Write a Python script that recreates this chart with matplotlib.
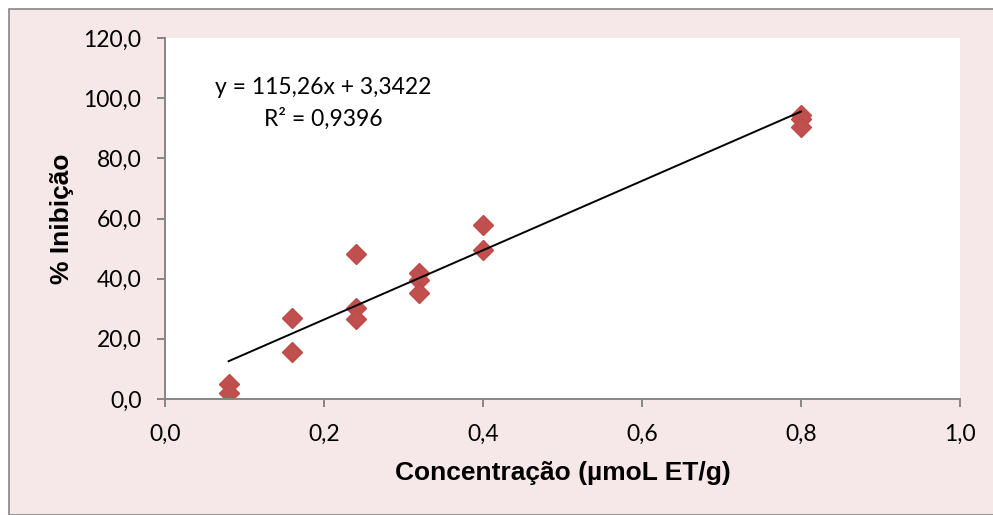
import matplotlib
matplotlib.use("Agg")
from matplotlib import pyplot as plt
from matplotlib.patches import Rectangle
from matplotlib.ticker import FuncFormatter, MultipleLocator

# concentration (umol ET/g) and % inhibition, replicate readings
conc = [0.08, 0.08, 0.16, 0.16, 0.24, 0.24, 0.24, 0.32, 0.32, 0.32, 0.40, 0.40, 0.80, 0.80, 0.80]
inhib = [5.0, 2.1, 27.0, 15.7, 48.1, 30.1, 26.5, 41.8, 39.6, 35.3, 57.8, 49.5, 94.5, 93.0, 90.3]

# linear fit reported on the chart
slope = 115.26
intercept = 3.3422
r2 = 0.9396

bg = '#F6E8E8'
grey = '#868686'
tick_font = 'Lato'


def comma(v, pos, nd=1):
    return f'{v:.{nd}f}'.replace('.', ',')


fig = plt.figure(figsize=(9.93, 5.15), dpi=100)
fig.patch.set_facecolor('white')
fig.patches.append(Rectangle((9 / 993, 0), 1, 1 - 9 / 515, transform=fig.transFigure,
                             facecolor=bg, edgecolor=grey, linewidth=1.2, zorder=-1))

ax = fig.add_axes([165 / 993, 1 - 399 / 515, (960 - 165) / 993, (399 - 38) / 515])
ax.set_facecolor('white')

xfit = [min(conc), max(conc)]
yfit = [slope * x + intercept for x in xfit]
ax.plot(xfit, yfit, color='black', linewidth=1.4, zorder=3)
ax.plot(conc, inhib, linestyle='none', marker='D', markersize=10,
        color='#C0504D', markeredgecolor='#BE4B48', zorder=2)

ax.set_xlim(0, 1.0)
ax.set_ylim(0, 120)
ax.xaxis.set_major_locator(MultipleLocator(0.2))
ax.yaxis.set_major_locator(MultipleLocator(20))
ax.xaxis.set_major_formatter(FuncFormatter(comma))
ax.yaxis.set_major_formatter(FuncFormatter(comma))

for side in ['top', 'right']:
    ax.spines[side].set_visible(False)
for side in ['left', 'bottom']:
    ax.spines[side].set_color(grey)
    ax.spines[side].set_linewidth(1.4)
ax.tick_params(axis='both', direction='out', length=6, width=1.4, color=grey,
               labelsize=16.5)
ax.tick_params(axis='x', pad=12)
ax.tick_params(axis='y', pad=11)
for lbl in ax.get_xticklabels() + ax.get_yticklabels():
    lbl.set_fontfamily(tick_font)

ax.set_xlabel('Concentração (µmoL ET/g)', fontsize=19, fontweight='bold',
              fontfamily='Liberation Sans', va='center')
ax.set_ylabel('% Inibição', fontsize=19, fontweight='bold',
              fontfamily='Liberation Sans', va='center')
ax.xaxis.set_label_coords(0.501, -0.205)
ax.yaxis.set_label_coords(-0.13, 0.5)

ax.text(0.199, 103.4, f'y = {comma(slope, 0, 2)}x + {comma(intercept, 0, 4)}',
        ha='center', va='center', fontsize=16.5, fontfamily=tick_font)
ax.text(0.199, 93.1, f'R² = {comma(r2, 0, 4)}',
        ha='center', va='center', fontsize=16.5, fontfamily=tick_font)

fig.savefig('out.png', dpi=100, facecolor=fig.get_facecolor())
